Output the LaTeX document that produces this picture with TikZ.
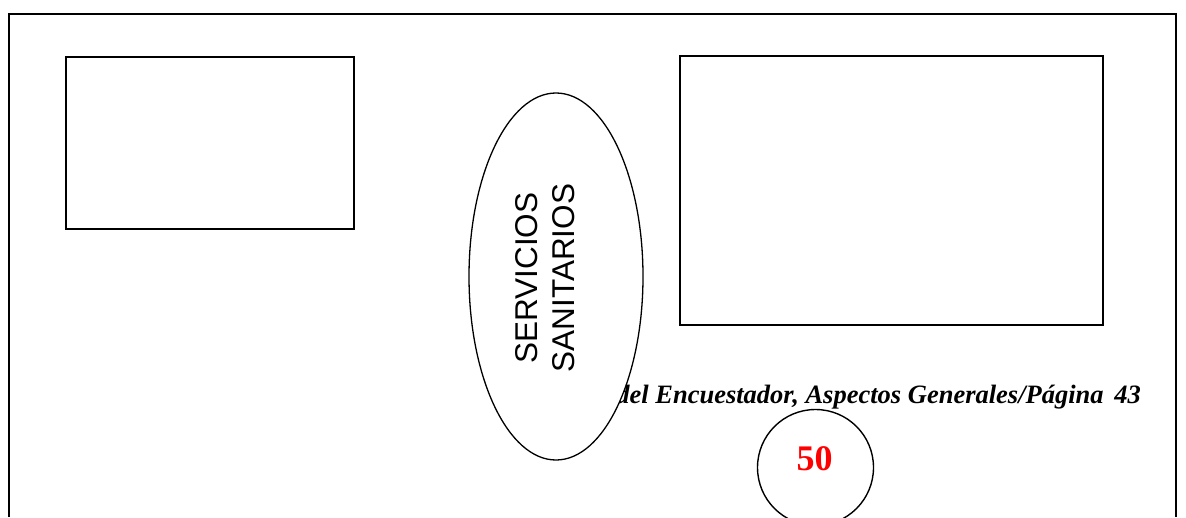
\documentclass[tikz,border=0pt]{standalone}
\usepackage{fontspec}
\setmainfont{Liberation Serif}
\newfontfamily\arialfont{Liberation Sans}
\usetikzlibrary{shapes.geometric}
\definecolor{pagered}{RGB}{255,0,0}
\tikzset{
  frameline/.style={line width=2pt, draw=black},
  emptybox/.style={rectangle, draw=black, line width=1.6pt, inner sep=0pt},
  oval/.style={ellipse, draw=black, fill=white, line width=1.3pt, inner sep=0pt},
  ovaltext/.style={rotate=90, align=center, inner sep=0pt, font=\arialfont\fontsize{31.5}{37}\selectfont},
  footer/.style={inner sep=0pt, font=\fontsize{26.5}{30}\selectfont\bfseries\itshape},
  pagecircle/.style={circle, draw=black, line width=1.4pt, inner sep=0pt},
  pagenum/.style={inner sep=0pt, text=pagered, font=\fontsize{36}{40}\selectfont\bfseries}
}
\begin{document}
\begin{tikzpicture}[x=1pt,y=-1pt]
\useasboundingbox (0,0) rectangle (1186,517);
\coordinate (fbl) at (8.5,517);
\coordinate (ftl) at (8.5,13.5);
\coordinate (ftr) at (1176,13.5);
\coordinate (fbr) at (1176,517);
\draw[frameline] (fbl) -- (ftl) -- (ftr) -- (fbr);
\node[emptybox, minimum width=288pt, minimum height=172pt] (boxa) at (210,143) {};
\node[emptybox, minimum width=423pt, minimum height=269pt] (boxb) at (891.5,190.5) {};
\node[footer, anchor=base east] (foot) at (1141,403) {del Encuestador, Aspectos Generales/Página\hspace{4pt} 43};
\node[oval, minimum width=174pt, minimum height=367pt] (ss) at (556,276.5) {};
\node[ovaltext] (sstext) at (545.5,278) {SERVICIOS\\SANITARIOS};
\node[pagecircle, minimum size=116pt] (pg) at (815.5,467.5) {};
\node[pagenum, anchor=base] (pgnum) at (814.5,470) {50};
\end{tikzpicture}
\end{document}
